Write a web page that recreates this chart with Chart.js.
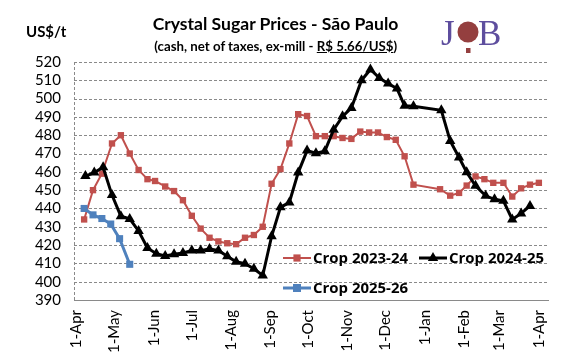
<!DOCTYPE html>
<html><head><meta charset="utf-8">
<script src="https://cdn.jsdelivr.net/npm/chart.js@4.4.1/dist/chart.umd.min.js"></script>
<style>
html,body{margin:0;padding:0;background:#fff;}
#wrap{position:relative;width:579px;height:359px;overflow:hidden;font-family:Lato,"Open Sans",sans-serif;}
canvas{position:absolute;left:0;top:0;}
.t{position:absolute;white-space:nowrap;color:#000;font-weight:bold;line-height:1;}
#logo{position:absolute;left:0;top:0;}
</style></head><body>
<div id="wrap">
<canvas id="c" width="579" height="359"></canvas>
<div id="title" class="t">Crystal Sugar Prices - São Paulo</div>
<div id="sub" class="t">(cash, net of taxes, ex-mill - <u>R$ 5.66/US$</u>)</div>
<div id="unit" class="t">US$/t</div>
<svg id="logo" width="579" height="70">
  <text x="441" y="45" font-family="Liberation Serif" font-size="35" fill="#5E4E9E">J</text>
  <circle cx="468" cy="32" r="10.5" fill="#943F3F"/>
  <rect x="466" y="48" width="4.5" height="5" fill="#943F3F"/>
  <text x="478" y="45" font-family="Liberation Serif" font-size="35" fill="#5E4E9E">B</text>
</svg>
</div>
<script>
// ---- data ----
const monthDays = [0,30,61,91,122,153,183,214,244,275,306,334,365];
const monthLabels = ['1-Apr','1-May','1-Jun','1-Jul','1-Aug','1-Sep','1-Oct','1-Nov','1-Dec','1-Jan','1-Feb','1-Mar','1-Apr'];
const yMin = 390, yMax = 520, yStep = 10;

const crop2324Days = [6,13,20,28,35,42,49,56,62,70,77,84,91,98,105,112,119,126,133,140,147,154,161,168,175,182,189,196,203,210,217,224,231,238,245,252,259,266,287,295,302,308,315,322,329,337,344,351,358,365];
const crop2324Vals = [434,450,459,475.5,480,470,461,456,455,452,449.5,444.5,436,429,424,422,421,420.5,424,425.5,430,453.5,461.5,475.5,491.5,490.5,479.5,479.5,479.5,478.5,478,482,481.5,481.5,479,477.5,468.5,453,450.5,447,448.5,452.5,457.5,456,454,454,446.5,451,453,454];

const crop2425Days = [7,14,21,28,35,42,49,56,63,70,77,84,91,98,105,112,119,126,133,140,147,154,161,168,175,182,189,196,203,210,217,225,232,239,246,253,259,266,288,295,302,308,315,323,330,337,344,351,358];
const crop2425Vals = [457.7,459.6,462.5,447.3,435.8,434.3,427.7,418.4,415.3,414,415,415.7,417.1,417.1,417.9,417.1,413.9,410.9,409.8,407.1,403.4,424.8,440.6,443.3,459.6,471.6,470.2,471.3,483,490.3,494.9,510,515.9,511.3,508.2,505.5,496.1,495.8,493.6,476.9,467.8,459.8,452.4,446.9,445,444.2,434,437.3,441.4];

const crop2526Days = [6,13,20,27,34,42];
const crop2526Vals = [440,436.5,434.5,431.5,423.5,409.5];

const seriesNames = ['Crop 2023-24','Crop 2024-25','Crop 2025-26'];

function pts(d,v){return d.map((x,i)=>({x:x,y:v[i]}));}

// ---- text layout helpers ----
function fit(id,target,cx,cy,start){
  const el=document.getElementById(id);
  el.style.fontSize=start+'px';
  const w=el.getBoundingClientRect().width;
  const s=start*target/w;
  el.style.fontSize=s+'px';
  const r=el.getBoundingClientRect();
  el.style.left=(cx-r.width/2)+'px';
  el.style.top=(cy-r.height/2)+'px';
}
fit('title',246,275.5,24,18);
fit('sub',243,275.7,46.5,14);
(function(){const el=document.getElementById('unit');el.style.fontSize='15px';const r=el.getBoundingClientRect();el.style.left='26px';el.style.top=(31.5-r.height/2)+'px';})();

const colors=['#C0504D','#000000','#4F81BD'];
const styles=[
  {pointStyle:'rect',radius:4.5,lw:2},
  {pointStyle:'triangle',radius:6,lw:3},
  {pointStyle:'rect',radius:5,lw:3}
];

function drawMarker(ctx,style,x,y,r,color){
  ctx.save();ctx.fillStyle=color;ctx.beginPath();
  if(style==='rect'){ctx.rect(x-r*0.8,y-r*0.8,r*1.6,r*1.6);} 
  else{const a=Math.PI/180;ctx.moveTo(x,y-r);ctx.lineTo(x+Math.sin(120*a)*r,y-Math.cos(120*a)*r);ctx.lineTo(x+Math.sin(240*a)*r,y-Math.cos(240*a)*r);ctx.closePath();}
  ctx.fill();ctx.restore();
}

// dashed horizontal grid drawn from the y scale's own ticks
const gridPlugin={id:'dgrid',beforeDatasetsDraw(chart){
  const ctx=chart.ctx, ys=chart.scales.y, a=chart.chartArea;
  ctx.save();ctx.strokeStyle='#8a8a8a';ctx.lineWidth=1;ctx.setLineDash([3,2]);
  ys.ticks.forEach(t=>{const y=Math.round(ys.getPixelForValue(t.value))+0.5;ctx.beginPath();ctx.moveTo(a.left,y);ctx.lineTo(a.right,y);ctx.stroke();});
  const x=Math.round(a.left)+0.5;ctx.beginPath();ctx.moveTo(x,a.top);ctx.lineTo(x,a.bottom);ctx.stroke();
  ctx.setLineDash([]);const yb=Math.round(a.bottom)+0.5;ctx.beginPath();ctx.moveTo(a.left,yb);ctx.lineTo(a.right,yb);ctx.stroke();
  ctx.restore();
}};

const legendItems=[{i:0,x:283,y:258},{i:1,x:419,y:258},{i:2,x:283,y:288}];
const legendPlugin={id:'lg',afterDraw(chart){
  const ctx=chart.ctx;
  legendItems.forEach(it=>{
    const c=colors[it.i], s=styles[it.i];
    ctx.save();
    ctx.strokeStyle=c;ctx.lineWidth=s.lw;
    ctx.beginPath();ctx.moveTo(it.x,it.y);ctx.lineTo(it.x+28,it.y);ctx.stroke();
    drawMarker(ctx,s.pointStyle,it.x+14,it.y,s.radius,c);
    ctx.fillStyle='#000';ctx.font='bold 13.5px "Open Sans"';ctx.textBaseline='middle';ctx.textAlign='left';
    const txt=seriesNames[it.i];
    const w=ctx.measureText(txt).width;
    ctx.translate(it.x+30,it.y+1);ctx.scale(95/w,1);
    ctx.fillText(txt,0,0);
    ctx.restore();
  });
}};

const datasets=[
  {label:seriesNames[0],data:pts(crop2324Days,crop2324Vals),order:3},
  {label:seriesNames[1],data:pts(crop2425Days,crop2425Vals),order:2},
  {label:seriesNames[2],data:pts(crop2526Days,crop2526Vals),order:1}
].map((d,i)=>Object.assign(d,{
  borderColor:colors[i],backgroundColor:colors[i],borderWidth:styles[i].lw,
  pointStyle:styles[i].pointStyle,pointRadius:styles[i].radius,pointHoverRadius:styles[i].radius,
  pointBackgroundColor:colors[i],pointBorderColor:colors[i],pointBorderWidth:0,
  tension:0,fill:false
}));

new Chart(document.getElementById('c'),{
  type:'line',
  data:{datasets:datasets},
  plugins:[gridPlugin,legendPlugin],
  options:{
    responsive:false,animation:false,devicePixelRatio:1,
    layout:{padding:{left:0,right:30,top:62,bottom:0}},
    plugins:{legend:{display:false},title:{display:false},tooltip:{enabled:false}},
    scales:{
      x:{type:'linear',min:-2,max:373,
        afterBuildTicks(s){s.ticks=monthDays.map(v=>({value:v}));},
        afterFit(s){s.height=59;},
        grid:{display:false,drawTicks:false},
        border:{display:false},
        ticks:{autoSkip:false,minRotation:90,maxRotation:90,padding:10,color:'#000',
          font:{family:'Lato',size:15},
          callback(v){const k=monthDays.indexOf(v);return k>=0?monthLabels[k]:'';}}
      },
      y:{type:'linear',min:yMin,max:yMax,
        afterFit(s){s.width=74;},
        grid:{display:false,drawTicks:false},
        border:{display:false},
        ticks:{stepSize:yStep,autoSkip:false,padding:13,color:'#000',font:{family:'Lato',size:15}}
      }
    }
  }
});
</script>
</body></html>
